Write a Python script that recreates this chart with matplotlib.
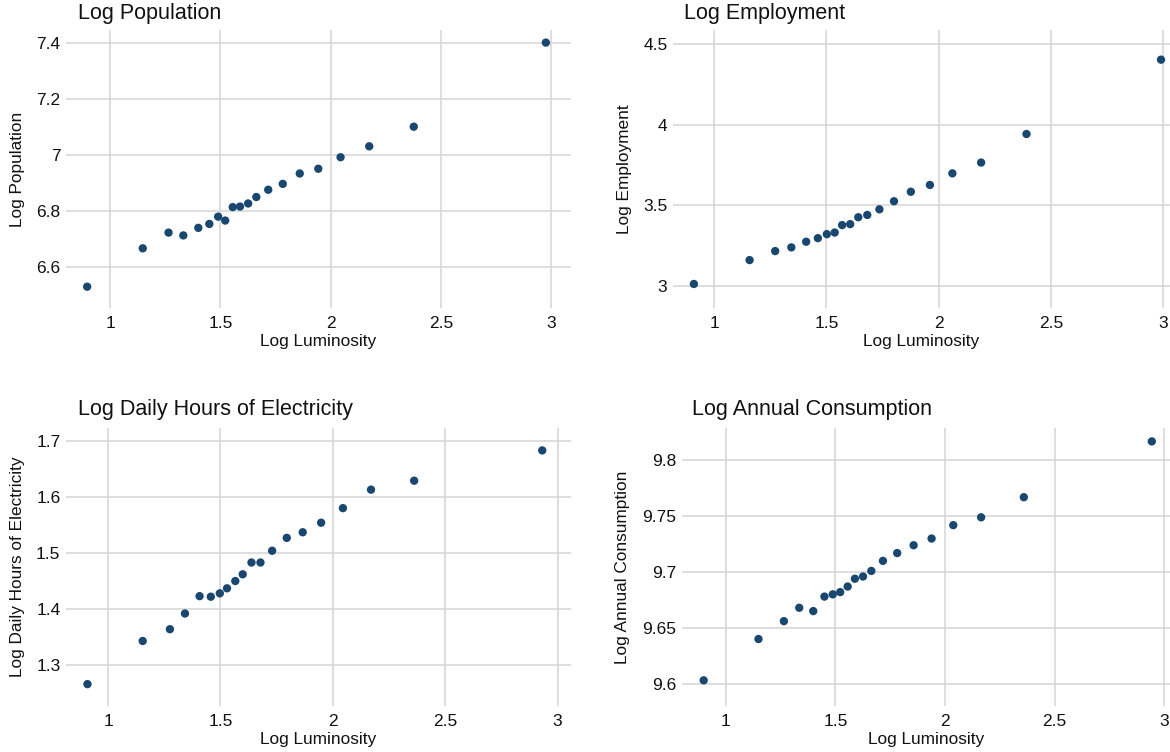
import matplotlib
matplotlib.use("Agg")
import matplotlib.pyplot as plt

plt.rcParams['font.family'] = ['Liberation Sans', 'DejaVu Sans']

W, H = 1170, 752

# ---- data (binned scatter) ----
pop_x = [0.896, 1.148, 1.265, 1.332, 1.400, 1.450, 1.490, 1.522, 1.556, 1.589,
         1.626, 1.663, 1.717, 1.783, 1.860, 1.944, 2.045, 2.175, 2.377, 2.976]
pop_y = [6.530, 6.667, 6.723, 6.713, 6.740, 6.754, 6.780, 6.766, 6.814, 6.816,
         6.827, 6.850, 6.876, 6.897, 6.934, 6.951, 6.992, 7.031, 7.101, 7.401]

emp_x = [0.910, 1.158, 1.272, 1.344, 1.410, 1.462, 1.502, 1.537, 1.570, 1.606,
         1.642, 1.682, 1.736, 1.801, 1.876, 1.961, 2.061, 2.189, 2.391, 2.990]
emp_y = [3.012, 3.160, 3.216, 3.239, 3.274, 3.296, 3.321, 3.331, 3.377, 3.383,
         3.426, 3.440, 3.475, 3.525, 3.584, 3.626, 3.698, 3.765, 3.942, 4.403]

hrs_x = [0.908, 1.154, 1.275, 1.342, 1.407, 1.457, 1.497, 1.529, 1.566, 1.599,
         1.638, 1.678, 1.730, 1.795, 1.866, 1.948, 2.045, 2.170, 2.362, 2.932]
hrs_y = [1.266, 1.343, 1.364, 1.392, 1.423, 1.422, 1.428, 1.437, 1.450, 1.462,
         1.483, 1.483, 1.504, 1.527, 1.537, 1.554, 1.580, 1.613, 1.629, 1.683]

con_x = [0.899, 1.149, 1.265, 1.335, 1.399, 1.450, 1.488, 1.522, 1.556, 1.589,
         1.626, 1.664, 1.717, 1.782, 1.857, 1.939, 2.038, 2.165, 2.360, 2.944]
con_y = [9.603, 9.640, 9.656, 9.668, 9.665, 9.678, 9.680, 9.682, 9.687, 9.694,
         9.696, 9.701, 9.710, 9.717, 9.724, 9.730, 9.742, 9.749, 9.767, 9.817]

x_ticks = [1, 1.5, 2, 2.5, 3]
x_ticklabels = ["1", "1.5", "2", "2.5", "3"]

panels = [
    dict(x=pop_x, y=pop_y, title="Log Population", ylabel="Log Population",
         yticks=[6.6, 6.8, 7.0, 7.2, 7.4], yticklabels=["6.6", "6.8", "7", "7.2", "7.4"],
         box=(66, 571, 30, 308), xlim=(0.80, 3.09), ylim=(6.454, 7.446),
         title_xy=(78, 13), ylabel_x=18),
    dict(x=emp_x, y=emp_y, title="Log Employment", ylabel="Log Employment",
         yticks=[3.0, 3.5, 4.0, 4.5], yticklabels=["3", "3.5", "4", "4.5"],
         box=(673, 1170, 30, 308), xlim=(0.817, 3.03), ylim=(2.863, 4.587),
         title_xy=(684, 13), ylabel_x=625),
    dict(x=hrs_x, y=hrs_y, title="Log Daily Hours of Electricity",
         ylabel="Log Daily Hours of Electricity",
         yticks=[1.3, 1.4, 1.5, 1.6, 1.7], yticklabels=["1.3", "1.4", "1.5", "1.6", "1.7"],
         box=(66, 571, 428, 706), xlim=(0.8125, 3.06), ylim=(1.227, 1.723),
         title_xy=(78, 410), ylabel_x=18),
    dict(x=con_x, y=con_y, title="Log Annual Consumption", ylabel="Log Annual Consumption",
         yticks=[9.6, 9.65, 9.7, 9.75, 9.8], yticklabels=["9.6", "9.65", "9.7", "9.75", "9.8"],
         box=(682, 1170, 428, 706), xlim=(0.80, 3.027), ylim=(9.580, 9.829),
         title_xy=(692, 410), ylabel_x=622),
]

fig = plt.figure(figsize=(W / 100, H / 100), dpi=100)
fig.patch.set_facecolor("white")

grid_c = "#d4d4d4"
dot_c = "#1a476f"

for p in panels:
    l, r, t, b = p["box"]
    ax = fig.add_axes([l / W, 1 - b / H, (r - l) / W, (b - t) / H])
    ax.set_facecolor("white")
    for s in ax.spines.values():
        s.set_visible(False)
    ax.set_xlim(*p["xlim"])
    ax.set_ylim(*p["ylim"])
    ax.set_xticks(x_ticks)
    ax.set_xticklabels(x_ticklabels)
    ax.set_yticks(p["yticks"])
    ax.set_yticklabels(p["yticklabels"])
    ax.tick_params(length=0, labelsize=12.5, colors="#111111")
    ax.tick_params(axis="x", pad=6)
    ax.tick_params(axis="y", pad=4)
    ax.grid(True, color=grid_c, linewidth=1.1)
    ax.set_axisbelow(True)
    ax.scatter(p["x"], p["y"], s=36, color=dot_c, edgecolors="none", zorder=3, clip_on=False)
    ax.set_xlabel("Log Luminosity", fontsize=12.4, labelpad=2, color="#111111")
    fig.text(p["ylabel_x"] / W, 1 - ((t + b) / 2) / H, p["ylabel"], rotation=90,
             ha="center", va="center", fontsize=12.4, color="#111111")
    fig.text(p["title_xy"][0] / W, 1 - p["title_xy"][1] / H, p["title"],
             ha="left", va="center", fontsize=15.5, color="#111111")

fig.savefig("out.png", dpi=100, facecolor="white")
